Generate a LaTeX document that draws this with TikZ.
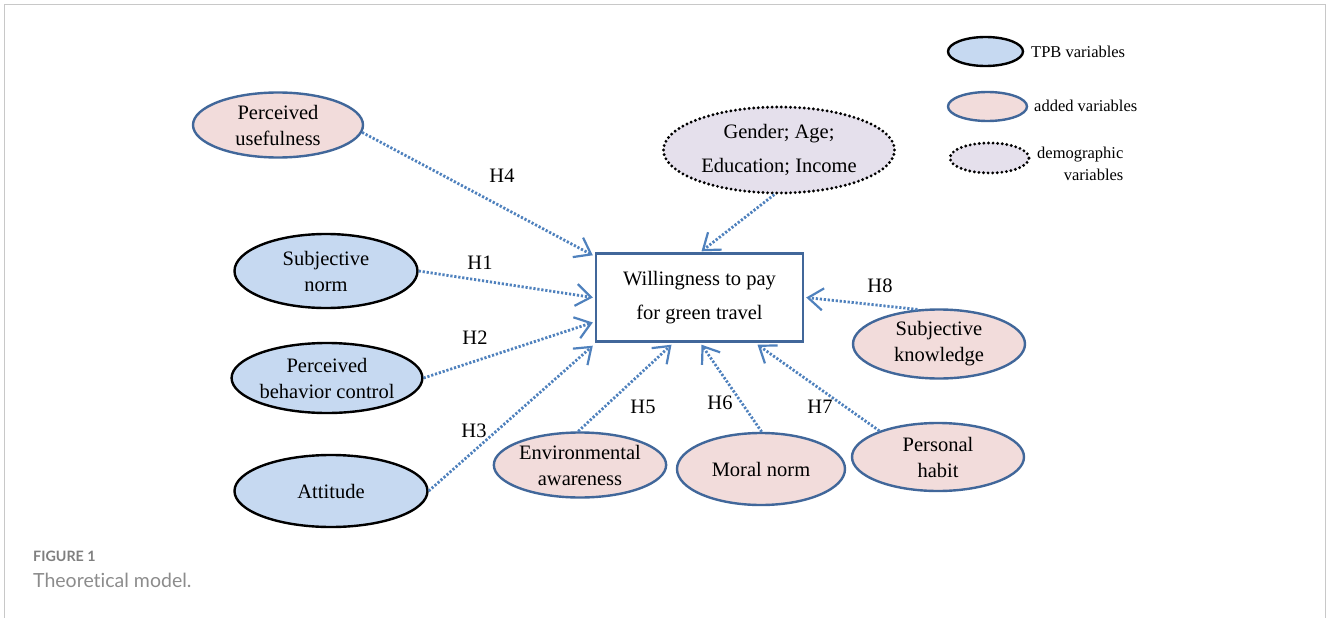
\documentclass[tikz,border=0pt]{standalone}
\usepackage{fontspec}
\setmainfont{Liberation Serif}
\newfontfamily\capfont[Ligatures={NoCommon,NoRequired,NoContextual}]{Lato}
\usetikzlibrary{arrows.meta,shapes.geometric,calc}
\definecolor{tpbfill}{HTML}{C6D9F1}
\definecolor{addfill}{HTML}{F2DCDB}
\definecolor{demfill}{HTML}{E5E0EC}
\definecolor{bordblue}{HTML}{41679A}
\definecolor{arrblue}{HTML}{4F81BD}
\definecolor{framegray}{HTML}{C8C8C8}
\definecolor{capgray}{HTML}{7F7F7F}
\definecolor{capgrayl}{HTML}{8C8C8C}
\begin{document}
\begin{tikzpicture}[x=1pt,y=-1pt,
  lbl/.style={font=\fontsize{20.5}{26}\selectfont, align=center},
  widelbl/.style={font=\fontsize{20.5}{33.5}\selectfont},
  leg/.style={font=\fontsize{16.5}{22}\selectfont},
  hyp/.style={font=\fontsize{20.5}{24}\selectfont, inner sep=0pt},
  tpb/.style={ellipse, draw=black, line width=2.4pt, fill=tpbfill, inner sep=0pt, lbl},
  addv/.style={ellipse, draw=bordblue, line width=2.4pt, fill=addfill, inner sep=0pt, lbl},
  demv/.style={ellipse, draw=black, line width=3.2pt, line cap=round, dash pattern=on 0pt off 4.6pt, fill=demfill, inner sep=0pt, lbl},
  wbox/.style={rectangle, draw=bordblue, line width=2.4pt, fill=white, inner sep=0pt, lbl},
  conn/.style={draw=arrblue, line width=2.8pt, dash pattern=on 2.2pt off 1.8pt,
    -{Straight Barb[length=15pt,width=22pt,line width=2.2pt]}}
]
\useasboundingbox (0,0) rectangle (1328,618);
\draw[framegray, line width=1pt] (4.5,618) -- (4.5,4.5) -- (1325.5,4.5) -- (1325.5,618);

% main nodes
\node[addv, minimum width=170pt, minimum height=65pt] (pu) at (278,125) {Perceived\\usefulness};
\node[tpb, minimum width=183pt, minimum height=74pt] (sn) at (326,271) {Subjective\\norm};
\node[tpb, minimum width=185pt, minimum height=70pt] (pbc) at (327,378) {Perceived\\behavior control};
\node[tpb, minimum width=193pt, minimum height=72pt] (att) at (331,491) {Attitude};
\node[demv, widelbl, minimum width=231pt, minimum height=86pt] (gen) at (779,150) {Gender; Age;\\Education; Income};
\node[wbox, widelbl, minimum width=207pt, minimum height=88pt] (box) at (699.5,297.5) {Willingness to pay\\for green travel};
\node[addv, minimum width=172pt, minimum height=69pt] (sk) at (939,344) {Subjective\\knowledge};
\node[addv, minimum width=170pt, minimum height=65pt] (ea) at (580,465) {Environmental\\awareness};
\node[addv, minimum width=168pt, minimum height=72pt] (mn) at (761,469) {Moral norm};
\node[addv, minimum width=172pt, minimum height=68pt] (ph) at (938,457) {Personal\\habit};

% legend
\node[tpb, minimum width=75pt, minimum height=29pt] (l1) at (985.5,51.5) {};
\node[addv, minimum width=79pt, minimum height=29pt] (l2) at (987.5,106.5) {};
\node[demv, minimum width=79pt, minimum height=30pt] (l3) at (989.5,158) {};
\node[leg, anchor=west, inner sep=0pt] (t1) at (1031,52) {TPB variables};
\node[leg, anchor=west, inner sep=0pt] (t2) at (1034,106) {added variables};
\node[leg, align=right, anchor=west, inner sep=0pt] (t3) at (1037,164) {demographic\\variables};

% connectors
\draw[conn] (pu.-5) -- ($(box.north west)+(-2,3)$);
\draw[conn] (sn.east) -- ($(box.west)+(-2,0)$);
\draw[conn] (pbc.east) -- ($(box.west)+(-2,25)$);
\draw[conn] (att.east) -- ($(box.south west)+(-2,3)$);
\draw[conn] (gen.-96) -- ($(box.north)+(2,-1)$);
\draw[conn] (sk.122) -- ($(box.east)+(2,0)$);
\draw[conn] (ea.93) -- ($(box.south)+(-28,2)$);
\draw[conn] (mn.89) -- ($(box.south)+(2,2)$);
\draw[conn] (ph.156) -- ($(box.south)+(58,2)$);

% hypothesis labels
\node[hyp] (h4) at (502,176) {H4};
\node[hyp] (h1) at (480,263) {H1};
\node[hyp] (h2) at (475,338) {H2};
\node[hyp] (h3) at (474,431) {H3};
\node[hyp] (h8) at (880,286) {H8};
\node[hyp] (h5) at (643,407) {H5};
\node[hyp] (h6) at (720,403) {H6};
\node[hyp] (h7) at (820,407) {H7};

% caption
\node[anchor=west, inner sep=0pt, text=capgray, font=\capfont\bfseries\fontsize{14.3}{16}\selectfont] (cap1) at (33,556) {FIGURE 1};
\node[anchor=west, inner sep=0pt, text=capgrayl, font=\capfont\fontsize{19.5}{22}\selectfont] (cap2) at (33,580) {Theoretical model.};
\end{tikzpicture}
\end{document}
